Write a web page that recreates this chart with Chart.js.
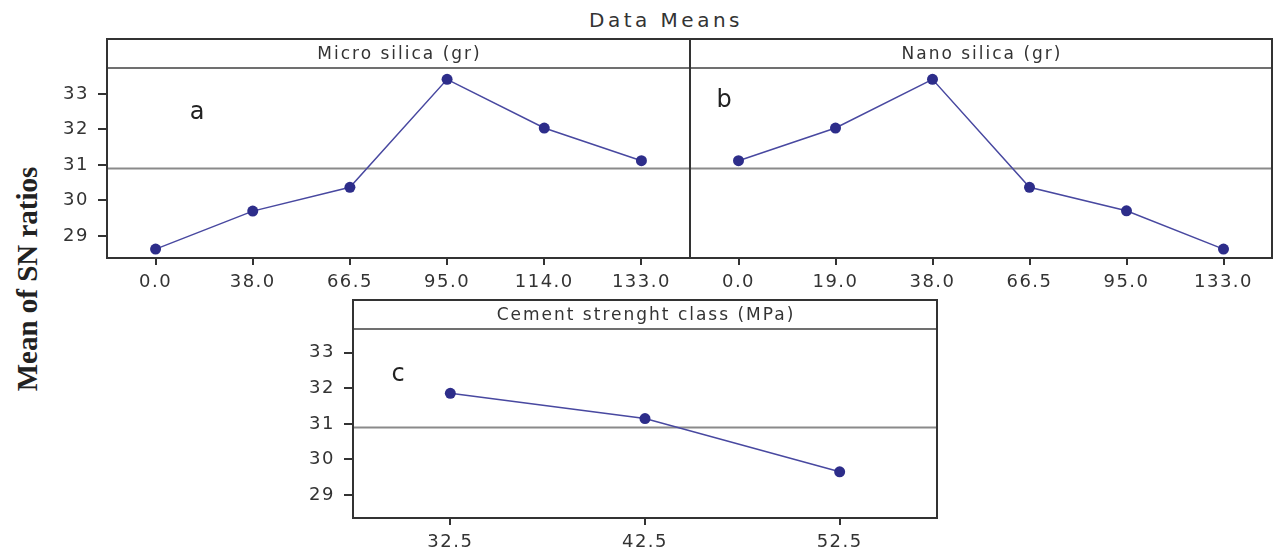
<!DOCTYPE html>
<html><head><meta charset="utf-8">
<script src="https://cdn.jsdelivr.net/npm/chart.js@4.4.0/dist/chart.umd.min.js"></script>
<style>
html,body{margin:0;padding:0;background:#fff;width:1274px;height:556px;overflow:hidden;position:relative;}
canvas{position:absolute;}
#title{position:absolute;left:566px;width:200px;top:8px;text-align:center;font:20px "DejaVu Sans";letter-spacing:3.5px;color:#333;}
#ytitle{position:absolute;left:27px;top:279px;transform:translate(-50%,-50%) rotate(-90deg);white-space:nowrap;font:bold 29px "Liberation Serif";color:#222;}
.lbl{position:absolute;font:24px "DejaVu Sans";color:#222;transform:translate(-50%,-50%);}
</style></head>
<body>
<div id="title">Data Means</div>
<div id="ytitle">Mean of SN ratios</div>
<canvas id="ca" style="left:0;top:30px" width="690" height="270"></canvas>
<canvas id="cb" style="left:690px;top:30px" width="584" height="270"></canvas>
<canvas id="cc" style="left:250px;top:290px" width="690" height="266"></canvas>
<div class="lbl" style="left:197px;top:111px">a</div>
<div class="lbl" style="left:724px;top:99px">b</div>
<div class="lbl" style="left:398px;top:373px">c</div>
<script>
const yTickValues = [29, 30, 31, 32, 33];
const microLabels = ['0.0', '38.0', '66.5', '95.0', '114.0', '133.0'];
const microMeans = [28.63, 29.70, 30.37, 33.41, 32.04, 31.12];
const nanoLabels = ['0.0', '19.0', '38.0', '66.5', '95.0', '133.0'];
const nanoMeans = [31.12, 32.04, 33.41, 30.37, 29.71, 28.63];
const cementLabels = ['32.5', '42.5', '52.5'];
const cementMeans = [31.86, 31.15, 29.65];
const overallMean = 30.9;
const panelTitles = ['Micro silica (gr)', 'Nano silica (gr)', 'Cement strenght class (MPa)'];

const framePlugin = {
  id: 'frame',
  beforeDraw(chart) { chart.ctx.letterSpacing = '1.5px'; },
  beforeDatasetsDraw(chart, args, opts) {
    const { ctx, chartArea: a, scales: { y } } = chart;
    const py = y.getPixelForValue(opts.mean);
    ctx.save();
    ctx.strokeStyle = '#8a8a8a'; ctx.lineWidth = 2;
    ctx.beginPath(); ctx.moveTo(a.left, py); ctx.lineTo(a.right, py); ctx.stroke();
    ctx.restore();
  },
  afterDraw(chart, args, opts) {
    const { ctx, chartArea: a } = chart;
    const h = opts.headerH;
    ctx.save();
    ctx.strokeStyle = '#707070'; ctx.lineWidth = 2;
    ctx.beginPath(); ctx.moveTo(a.left, a.top); ctx.lineTo(a.right, a.top); ctx.stroke();
    ctx.strokeStyle = '#333'; ctx.lineWidth = 2;
    ctx.strokeRect(a.left, a.top - h, a.right - a.left, a.bottom - a.top + h);
    ctx.letterSpacing = '2px';
    ctx.fillStyle = '#333'; ctx.font = '17px "DejaVu Sans"';
    ctx.textAlign = 'center'; ctx.textBaseline = 'middle';
    ctx.fillText(opts.title, (a.left + a.right) / 2 + 1, a.top - h / 2 + 1);
    ctx.restore();
  }
};

function makeChart(id, labels, values, o) {
  const tickFont = { family: 'DejaVu Sans', size: 18 };
  return new Chart(document.getElementById(id), {
    type: 'line',
    data: { labels: labels, datasets: [{
      data: values, borderColor: '#4848a0', borderWidth: 1.5,
      pointRadius: 5.5, pointBackgroundColor: '#2d2d8a', pointBorderColor: '#2d2d8a', pointBorderWidth: 0,
      tension: 0, clip: false
    }]},
    options: {
      responsive: false, animation: false,
      layout: { autoPadding: false, padding: { top: o.padTop, right: o.padRight, left: 0, bottom: 0 } },
      plugins: { legend: { display: false }, tooltip: { enabled: false },
        frame: { mean: overallMean, headerH: 29, title: o.title } },
      scales: {
        x: { type: 'category', offset: true,
          grid: { offset: false, drawOnChartArea: false, drawTicks: true, tickLength: 7, color: '#333', lineWidth: 2 },
          border: { display: false },
          ticks: { font: tickFont, color: '#333', padding: 7, maxRotation: 0, autoSkip: false },
          afterFit: s => { s.height = o.xH; } },
        y: { type: 'linear', min: o.min, max: o.max, display: o.showY,
          grid: { drawOnChartArea: false, drawTicks: true, tickLength: 9, color: '#333', lineWidth: 2 },
          border: { display: false },
          ticks: { font: tickFont, color: '#333', padding: 9 },
          afterBuildTicks: s => { s.ticks = yTickValues.map(v => ({ value: v })); },
          afterFit: s => { s.width = o.yW; } }
      }
    },
    plugins: [framePlugin]
  });
}

makeChart('ca', microLabels, microMeans, { title: panelTitles[0], padTop: 38, padRight: 0, xH: 42, yW: 107, showY: true, min: 28.38, max: 33.73 });
makeChart('cb', nanoLabels, nanoMeans, { title: panelTitles[1], padTop: 38, padRight: 2, xH: 42, yW: 0, showY: false, min: 28.38, max: 33.73 });
makeChart('cc', cementLabels, cementMeans, { title: panelTitles[2], padTop: 39, padRight: 3, xH: 38, yW: 103, showY: true, min: 28.35, max: 33.67 });
</script>
</body></html>
